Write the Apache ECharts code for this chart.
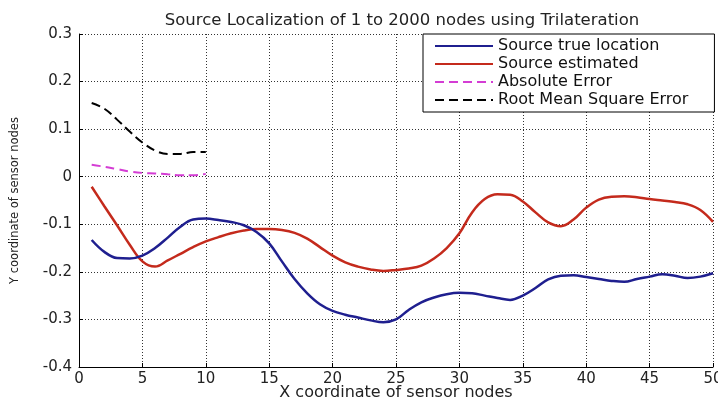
<!DOCTYPE html>
<html>
<head>
<meta charset="utf-8">
<script src="https://cdn.jsdelivr.net/npm/echarts@6/dist/echarts.min.js"></script>
<style>
html,body{margin:0;padding:0;background:#fff;}
#chart{width:718px;height:403px;}
</style>
</head>
<body>
<div id="chart"></div>
<script>
// X positions (sensor node index)
var xNodes = [1,2,3,4,5,6,7,8,9,10,11,12,13,14,15,16,17,18,19,20,21,22,23,24,25,26,27,28,29,30,31,32,33,34,35,36,37,38,39,40,41,42,43,44,45,46,47,48,49,50];
var xErr = [1,2,3,4,5,6,7,8,9,10];

var trueLocation = [-0.133,-0.158,-0.171,-0.172,-0.166,-0.150,-0.128,-0.105,-0.090,-0.088,
  -0.091,-0.095,-0.102,-0.116,-0.140,-0.178,-0.215,-0.245,-0.268,-0.282,
  -0.290,-0.296,-0.302,-0.306,-0.300,-0.280,-0.264,-0.254,-0.247,-0.244,
  -0.245,-0.250,-0.255,-0.259,-0.250,-0.234,-0.216,-0.208,-0.207,-0.211,
  -0.215,-0.219,-0.221,-0.215,-0.210,-0.205,-0.208,-0.213,-0.210,-0.203];

var estimated = [-0.021,-0.062,-0.102,-0.143,-0.178,-0.189,-0.176,-0.162,-0.148,-0.136,
  -0.127,-0.119,-0.113,-0.110,-0.110,-0.112,-0.118,-0.130,-0.148,-0.166,
  -0.180,-0.189,-0.195,-0.198,-0.196,-0.193,-0.187,-0.172,-0.150,-0.119,
  -0.075,-0.047,-0.037,-0.038,-0.052,-0.075,-0.096,-0.104,-0.090,-0.065,
  -0.048,-0.042,-0.041,-0.043,-0.047,-0.050,-0.053,-0.058,-0.070,-0.095];

var absError = [0.025,0.021,0.016,0.011,0.008,0.007,0.005,0.003,0.003,0.006];
var rmsError = [0.155,0.143,0.120,0.095,0.072,0.055,0.048,0.048,0.052,0.052];

var seriesNames = ['Source true location','Source estimated','Absolute Error','Root Mean Square Error'];
var xTicks = {min:0, max:50, interval:5};
var yTicks = {min:-0.4, max:0.3, interval:0.1};

function pairs(xs, ys){ return xs.map(function(x,i){ return [x, ys[i]]; }); }

var FONT = 'DejaVu Sans';
var chart = echarts.init(document.getElementById('chart'), null, {renderer:'canvas'});
chart.setOption({
  animation:false,
  backgroundColor:'#fff',
  title:{
    text:'Source Localization of 1 to 2000 nodes using Trilateration',
    left:397, top:7, textAlign:'center',
    textStyle:{fontFamily:FONT,fontSize:16.5,fontWeight:'normal',color:'#222'}
  },
  grid:{left:79,right:5,top:34,bottom:36,containLabel:false,outerBoundsMode:'none'},
  legend:{
    data:seriesNames,
    orient:'vertical',
    left:423, top:34,
    itemWidth:58, itemHeight:14, itemGap:2,
    padding:[4,26,4,11],
    backgroundColor:'#fff',
    borderColor:'#000', borderWidth:1, borderRadius:0,
    itemStyle:{opacity:0, color:'transparent', borderWidth:0},
    textStyle:{fontFamily:FONT,fontSize:16,color:'#111'},
    selectedMode:false
  },
  xAxis:{
    type:'value', min:xTicks.min, max:xTicks.max, interval:xTicks.interval,
    name:'X coordinate of sensor nodes', nameLocation:'middle', nameGap:18, nameMoveOverlap:false,
    nameTextStyle:{fontFamily:FONT,fontSize:16,color:'#222'},
    axisLine:{show:true,onZero:false,lineStyle:{color:'#000',width:1}},
    axisTick:{show:true,inside:true,length:4,lineStyle:{color:'#000'}},
    axisLabel:{fontFamily:FONT,fontSize:15,color:'#222',margin:5},
    splitLine:{show:true,lineStyle:{color:'#333',width:1,type:[1,2]}}
  },
  yAxis:{
    type:'value', min:yTicks.min, max:yTicks.max, interval:yTicks.interval,
    name:'Y coordinate of sensor nodes', nameLocation:'middle', nameGap:58, nameMoveOverlap:false,
    nameTextStyle:{fontFamily:FONT,fontSize:11.5,color:'#222'},
    axisLine:{show:true,onZero:false,lineStyle:{color:'#000',width:1}},
    axisTick:{show:true,inside:true,length:4,lineStyle:{color:'#000'}},
    axisLabel:{fontFamily:FONT,fontSize:15,color:'#222',margin:7},
    splitLine:{show:true,lineStyle:{color:'#333',width:1,type:[1,2]}}
  },
  series:[
    {name:seriesNames[0],type:'line',data:pairs(xNodes,trueLocation),showSymbol:false,symbol:'none',smooth:0.4,
     lineStyle:{color:'#1f1f8f',width:2.5},itemStyle:{color:'#1f1f8f'},z:3},
    {name:seriesNames[1],type:'line',data:pairs(xNodes,estimated),showSymbol:false,symbol:'none',smooth:0.4,
     lineStyle:{color:'#c42a1c',width:2.5},itemStyle:{color:'#c42a1c'},z:2},
    {name:seriesNames[2],type:'line',data:pairs(xErr,absError),showSymbol:false,symbol:'none',smooth:0.4,
     lineStyle:{color:'#d43dd4',width:2,type:[9,5]},itemStyle:{color:'#d43dd4'}},
    {name:seriesNames[3],type:'line',data:pairs(xErr,rmsError),showSymbol:false,symbol:'none',smooth:0.4,
     lineStyle:{color:'#000',width:2,type:[9,5]},itemStyle:{color:'#000'}}
  ]
});
</script>
</body>
</html>
